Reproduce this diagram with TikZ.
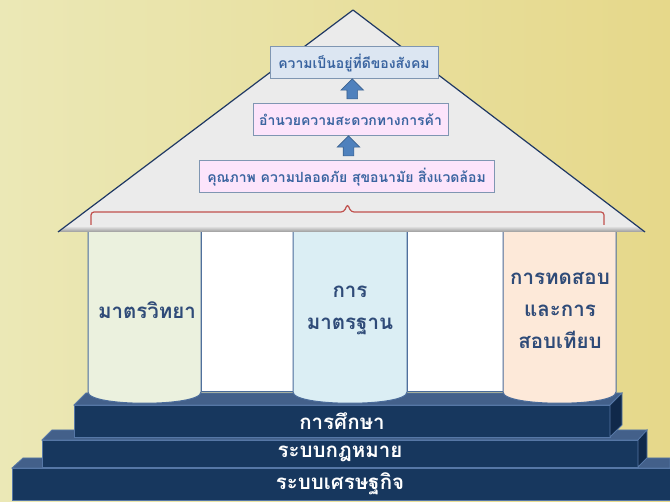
\documentclass[tikz,border=0pt]{standalone}
\usepackage{fontspec}
\newfontfamily\thai[Script=Thai]{Loma}
\usetikzlibrary{shapes.arrows,calc,positioning}
\definecolor{bgleft}{HTML}{EBE8B6}
\definecolor{bgright}{HTML}{E6D88A}
\definecolor{roofgray}{HTML}{EBEBEB}
\definecolor{roofline}{HTML}{1F3864}
\definecolor{stepfront}{HTML}{17375E}
\definecolor{steptop}{HTML}{43608A}
\definecolor{stepside}{HTML}{10294A}
\definecolor{stepedge}{HTML}{5677A6}
\definecolor{boxblue}{HTML}{DCE6F2}
\definecolor{boxpink}{HTML}{FCE4FB}
\definecolor{boxline}{HTML}{7F96B2}
\definecolor{rooftext}{HTML}{3A64A0}
\definecolor{arrowblue}{HTML}{4F81BD}
\definecolor{pillgreen}{HTML}{EBF1DE}
\definecolor{pillblue}{HTML}{DBEEF4}
\definecolor{pillorange}{HTML}{FDE9D9}
\definecolor{pillline}{HTML}{4A6B9A}
\definecolor{pilltext}{HTML}{2F4B78}
\definecolor{bracketred}{HTML}{C0504D}

\tikzset{
    roofbox/.style={draw=boxline, line width=1pt, minimum height=32pt, inner sep=0pt,
        font=\thai\bfseries\fontsize{14}{16}\selectfont, text=rooftext},
    uparrow/.style={single arrow, draw=arrowblue!75!black, fill=arrowblue, line width=.6pt,
        shape border rotate=90, minimum height=20pt, inner sep=5pt,
        single arrow head extend=6pt},
    pillar/.style={draw=pillline, line width=1pt},
    pillartext/.style={font=\thai\bfseries\fontsize{20.5}{32}\selectfont, text=pilltext, align=center},
    stair/.style={draw=stepedge, line width=.8pt},
    stairtext/.style={font=\thai\bfseries\fontsize{20.5}{22}\selectfont, text=white}
}

\begin{document}
\begin{tikzpicture}[x=1pt, y=-1pt]
    \useasboundingbox (0,0) rectangle (670,502);
    \shade[left color=bgleft, right color=bgright] (0,0) rectangle (670,502);

    \draw[stair, fill=stepfront] (12,468) rectangle (670,500);
    \draw[stair, fill=steptop] (12,468) -- (23,458) -- (670,458) -- (670,468) -- cycle;
    \draw[stair, fill=stepfront] (42,440) rectangle (638,467);
    \draw[stair, fill=steptop] (42,440) -- (52,430) -- (647,430) -- (638,440) -- cycle;
    \draw[stair, fill=stepside] (638,440) -- (647,430) -- (647,458) -- (638,467) -- cycle;
    \draw[stair, fill=stepfront] (74,405) rectangle (610,437);
    \draw[stair, fill=steptop] (74,405) -- (86,393) -- (622,393) -- (610,405) -- cycle;
    \draw[stair, fill=stepside] (610,405) -- (622,393) -- (622,425) -- (610,437) -- cycle;
    \node[stairtext] (edu) at (342,421) {การศึกษา};
    \node[stairtext] (law) at (340,453.5) {ระบบกฎหมาย};
    \node[stairtext] (econ) at (340,484) {ระบบเศรษฐกิจ};

    \draw[pillar, fill=white] (201,232) rectangle (293,392);
    \draw[pillar, fill=white] (407,232) rectangle (503,392);
    \draw[pillar, fill=pillgreen] (88,232) -- (88,392) .. controls (88,407) and (201,407) .. (201,392) -- (201,232);
    \draw[pillar, fill=pillblue] (293,232) -- (293,392) .. controls (293,407) and (407,407) .. (407,392) -- (407,232);
    \draw[pillar, fill=pillorange] (503,232) -- (503,392) .. controls (503,407) and (616,407) .. (616,392) -- (616,232);
    \node[pillartext] (metro) at (147,310) {มาตรวิทยา};
    \node[pillartext] (stand) at (350,310) {การ\\มาตรฐาน};
    \node[pillartext] (test) at (560,311) {การทดสอบ\\และการ\\สอบเทียบ};

    \fill[roofgray] (58,232) -- (353,10) -- (645,232) -- cycle;
    \shade[top color=roofgray, bottom color=black!40] (66,226) -- (637,226) -- (645,232) -- (58,232) -- cycle;
    \draw[roofline, line width=1.2pt, line join=round] (58,232) -- (353,10) -- (645,232);
    \draw[bracketred, line width=1.2pt, rounded corners=3pt]
        (91,225) -- (91,212) -- (344,212) -- (347.5,204) -- (351,212) -- (604,212) -- (604,225);

    \node[roofbox, fill=boxblue, minimum width=168pt] (society) at (354,63) {ความเป็นอยู่ที่ดีของสังคม};
    \node[roofbox, fill=boxpink, minimum width=195pt] (trade) at (350.5,120) {อำนวยความสะดวกทางการค้า};
    \node[roofbox, fill=boxpink, minimum width=295pt] (quality) at (346.5,177) {คุณภาพ ความปลอดภัย สุขอนามัย สิ่งแวดล้อม};
    \node[uparrow] (up1) at ($(trade.north)!.5!(society.south)$) {};
    \node[uparrow] (up2) at ($(quality.north)!.5!(trade.south)$) {};
\end{tikzpicture}
\end{document}
